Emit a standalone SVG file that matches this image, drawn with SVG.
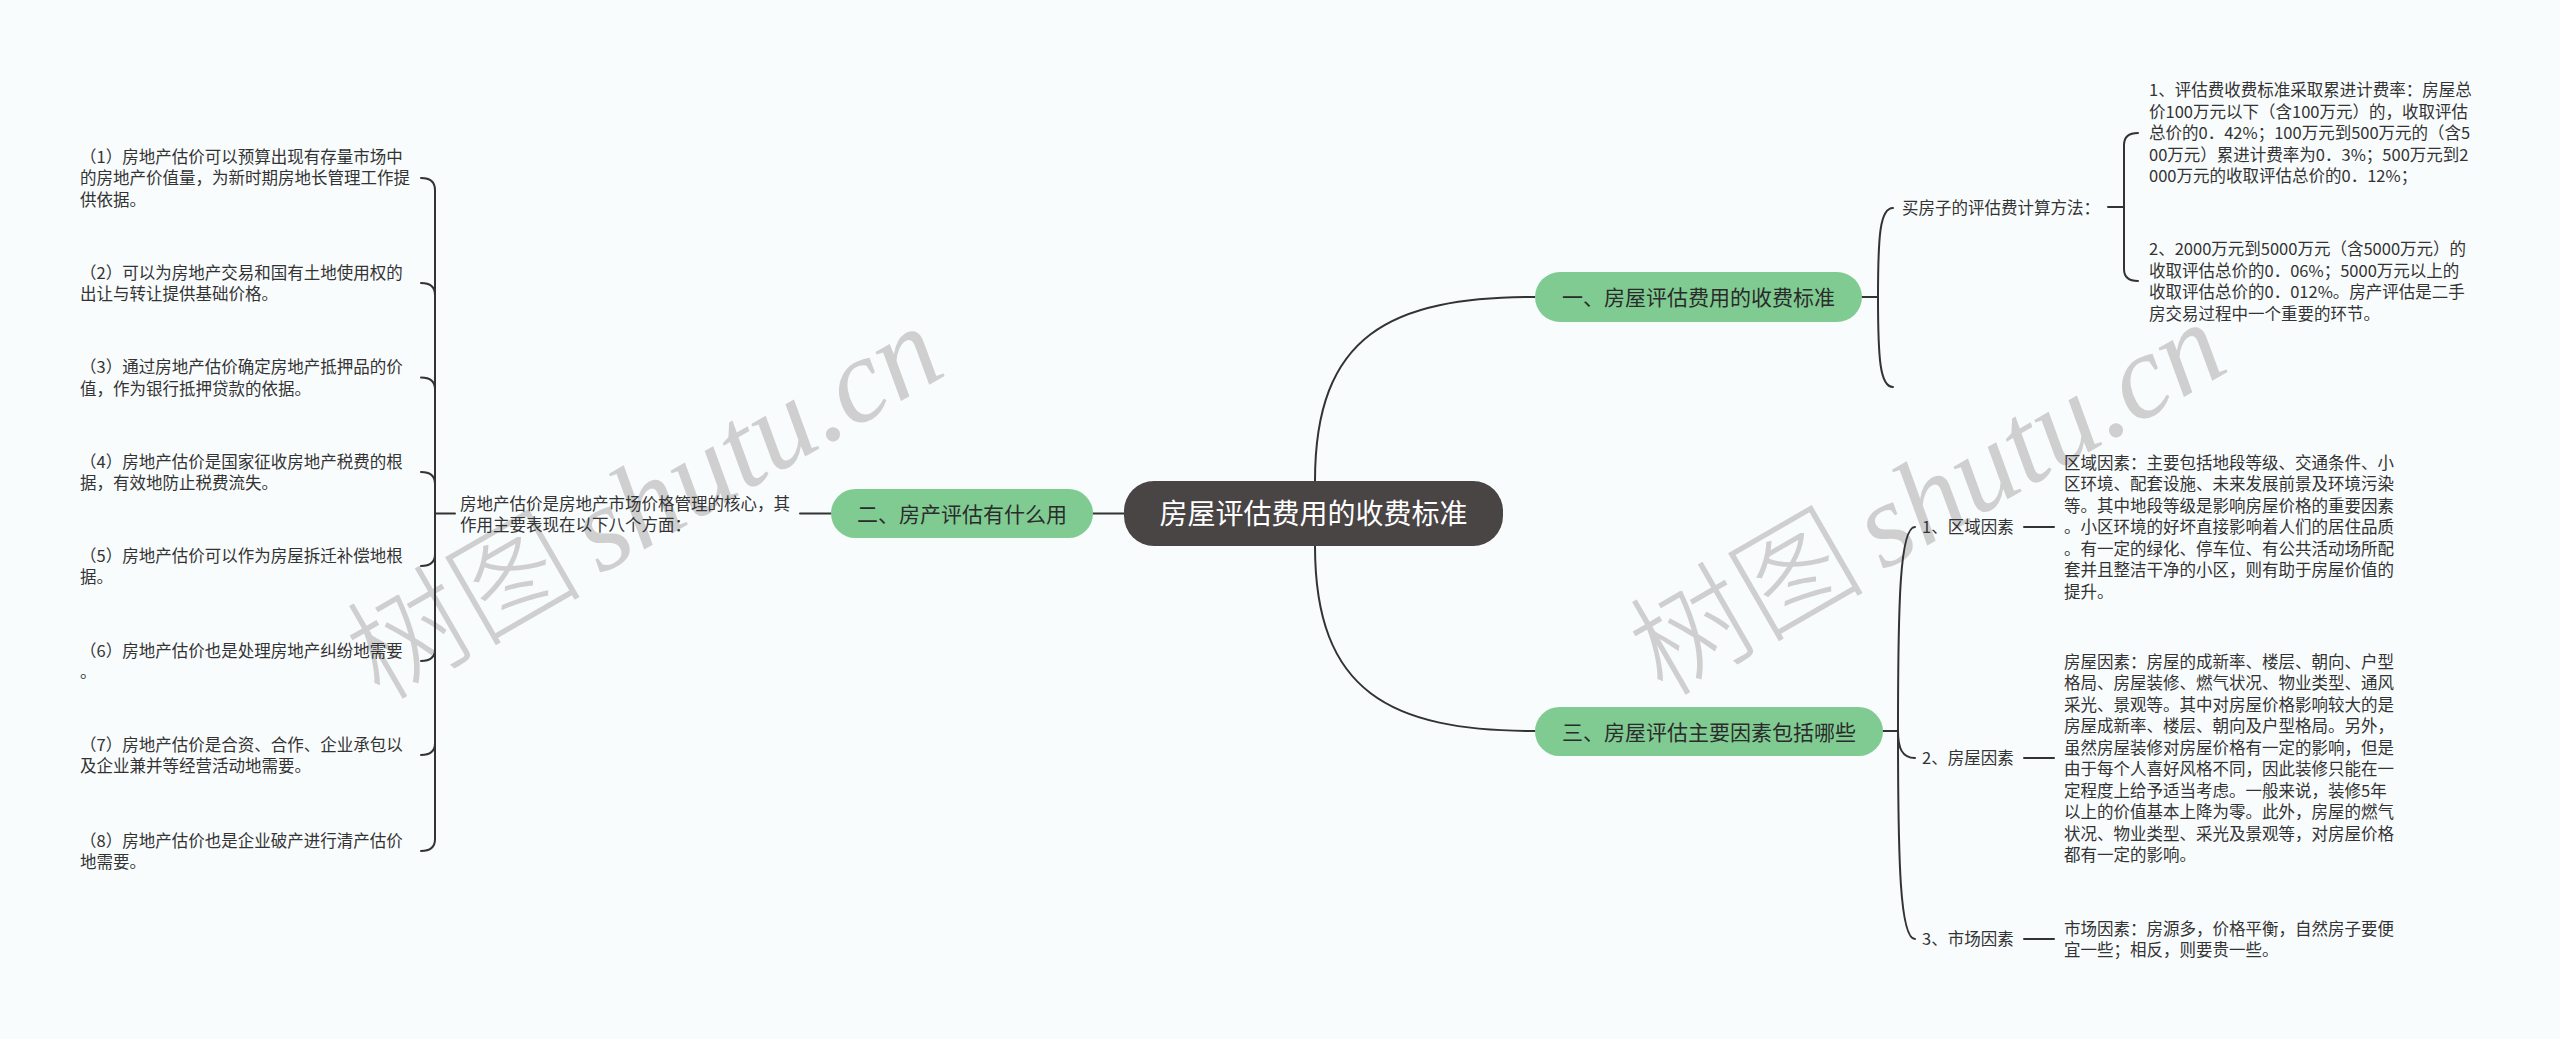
<svg xmlns="http://www.w3.org/2000/svg" width="2560" height="1039" viewBox="0 0 2560 1039">
<style>
.t{font-family:"Noto Sans CJK SC","Microsoft YaHei",sans-serif;font-size:16.5px;fill:#333333}
.n{font-family:"Noto Sans CJK SC","Microsoft YaHei",sans-serif;font-size:21px;fill:#2b2b2b;text-anchor:middle}
.r{font-family:"Noto Sans CJK SC","Microsoft YaHei",sans-serif;font-size:28px;fill:#ffffff;text-anchor:middle}
.g{fill:#80cb92}
.c{fill:none;stroke:#333333;stroke-width:2;stroke-linecap:round}
.wm{fill:#cfcfcf}
.wc{font-family:"Noto Sans CJK SC",sans-serif;font-size:118px;font-weight:300}
.wl{font-family:"Liberation Serif",serif;font-style:italic;font-size:120px}
</style>
<rect width="2560" height="1039" fill="#f9fcfd"/>
<g id="watermarks">
<text class="wm" transform="translate(380,702) rotate(-30)"><tspan class="wc">树图</tspan><tspan class="wl" dx="18">shutu.cn</tspan></text>
<text class="wm" transform="translate(1663,698) rotate(-30)"><tspan class="wc">树图</tspan><tspan class="wl" dx="18">shutu.cn</tspan></text>
</g>
<g id="connectors">
<path class="c" d="M1315,481 C1315,335 1390,297 1535,297"/>
<path class="c" d="M1315,546 C1315,692 1390,731 1535,731"/>
<path class="c" d="M1124,513.5 H1093"/>
<path class="c" d="M831,513.5 H800"/>
<path class="c" d="M455,513.5 H435"/>
<path class="c" d="M435,513.5 V190 Q435,178 421,178"/>
<path class="c" d="M435,513.5 V295 Q435,283 421,283"/>
<path class="c" d="M435,513.5 V389.5 Q435,377.5 421,377.5"/>
<path class="c" d="M435,513.5 V484 Q435,472 421,472"/>
<path class="c" d="M435,513.5 V554 Q435,566 421,566"/>
<path class="c" d="M435,513.5 V649 Q435,661 421,661"/>
<path class="c" d="M435,513.5 V743 Q435,755 421,755"/>
<path class="c" d="M435,513.5 V839 Q435,851 421,851"/>
<path class="c" d="M1862,297 H1878"/>
<path class="c" d="M1878,297 C1878,235 1880,208 1893,208"/>
<path class="c" d="M1878,297 C1878,359 1880,387 1893,387"/>
<path class="c" d="M2108,207 H2124"/>
<path class="c" d="M2124,207 V145 Q2124,133 2138,133"/>
<path class="c" d="M2124,207 V269 Q2124,281 2138,281"/>
<path class="c" d="M1883,731 H1898"/>
<path class="c" d="M1898,731 C1898,600 1900,527 1915,527"/>
<path class="c" d="M1898,731 C1898,748 1902,758 1915,758"/>
<path class="c" d="M1898,731 C1898,862 1900,939 1915,939"/>
<path class="c" d="M2024,527 H2054"/>
<path class="c" d="M2024,758 H2054"/>
<path class="c" d="M2024,939 H2054"/>
</g>
<g id="root">
<rect x="1124" y="481" width="379" height="65" rx="30" fill="#4a4545"/>
<text class="r" x="1313.5" y="524">房屋评估费用的收费标准</text>
</g>
<g id="branch1">
<rect class="g" x="1535" y="272" width="327" height="50" rx="25"/>
<text class="n" x="1698.5" y="305">一、房屋评估费用的收费标准</text>
</g>
<g id="branch2">
<rect class="g" x="831" y="489" width="262" height="49" rx="24.5"/>
<text class="n" x="962" y="521.5">二、房产评估有什么用</text>
</g>
<g id="branch3">
<rect class="g" x="1535" y="707" width="348" height="49" rx="24.5"/>
<text class="n" x="1709" y="739.5">三、房屋评估主要因素包括哪些</text>
</g>
<g id="b2-intro">
<text class="t" x="460" y="509.5"><tspan x="460">房地产估价是房地产市场价格管理的核心，其</tspan><tspan x="460" dy="21.5">作用主要表现在以下八个方面：</tspan></text>
</g>
<g id="use1"><text class="t" y="162.8"><tspan x="80">（1）房地产估价可以预算出现有存量市场中</tspan><tspan x="80" dy="21.5">的房地产价值量，为新时期房地长管理工作提</tspan><tspan x="80" dy="21.5">供依据。</tspan></text></g>
<g id="use2"><text class="t" y="278.5"><tspan x="80">（2）可以为房地产交易和国有土地使用权的</tspan><tspan x="80" dy="21.5">出让与转让提供基础价格。</tspan></text></g>
<g id="use3"><text class="t" y="373"><tspan x="80">（3）通过房地产估价确定房地产抵押品的价</tspan><tspan x="80" dy="21.5">值，作为银行抵押贷款的依据。</tspan></text></g>
<g id="use4"><text class="t" y="467.5"><tspan x="80">（4）房地产估价是国家征收房地产税费的根</tspan><tspan x="80" dy="21.5">据，有效地防止税费流失。</tspan></text></g>
<g id="use5"><text class="t" y="561.5"><tspan x="80">（5）房地产估价可以作为房屋拆迁补偿地根</tspan><tspan x="80" dy="21.5">据。</tspan></text></g>
<g id="use6"><text class="t" y="656.5"><tspan x="80">（6）房地产估价也是处理房地产纠纷地需要</tspan><tspan x="80" dy="21.5">。</tspan></text></g>
<g id="use7"><text class="t" y="750.5"><tspan x="80">（7）房地产估价是合资、合作、企业承包以</tspan><tspan x="80" dy="21.5">及企业兼并等经营活动地需要。</tspan></text></g>
<g id="use8"><text class="t" y="846.5"><tspan x="80">（8）房地产估价也是企业破产进行清产估价</tspan><tspan x="80" dy="21.5">地需要。</tspan></text></g>
<g id="b1-method"><text class="t" x="1902" y="214.3">买房子的评估费计算方法：</text></g>
<g id="fee1"><text class="t" y="96.3"><tspan x="2149">1、评估费收费标准采取累进计费率：房屋总</tspan><tspan x="2149" dy="21.5">价100万元以下（含100万元）的，收取评估</tspan><tspan x="2149" dy="21.5">总价的0．42%；100万元到500万元的（含5</tspan><tspan x="2149" dy="21.5">00万元）累进计费率为0．3%；500万元到2</tspan><tspan x="2149" dy="21.5">000万元的收取评估总价的0．12%；</tspan></text></g>
<g id="fee2"><text class="t" y="255"><tspan x="2149">2、2000万元到5000万元（含5000万元）的</tspan><tspan x="2149" dy="21.5">收取评估总价的0．06%；5000万元以上的</tspan><tspan x="2149" dy="21.5">收取评估总价的0．012%。房产评估是二手</tspan><tspan x="2149" dy="21.5">房交易过程中一个重要的环节。</tspan></text></g>
<g id="factor1"><text class="t" x="1922" y="533.3">1、区域因素</text></g>
<g id="factor2"><text class="t" x="1922" y="764.3">2、房屋因素</text></g>
<g id="factor3"><text class="t" x="1922" y="945.3">3、市场因素</text></g>
<g id="factor1-desc"><text class="t" y="468.8"><tspan x="2064">区域因素：主要包括地段等级、交通条件、小</tspan><tspan x="2064" dy="21.5">区环境、配套设施、未来发展前景及环境污染</tspan><tspan x="2064" dy="21.5">等。其中地段等级是影响房屋价格的重要因素</tspan><tspan x="2064" dy="21.5">。小区环境的好坏直接影响着人们的居住品质</tspan><tspan x="2064" dy="21.5">。有一定的绿化、停车位、有公共活动场所配</tspan><tspan x="2064" dy="21.5">套并且整洁干净的小区，则有助于房屋价值的</tspan><tspan x="2064" dy="21.5">提升。</tspan></text></g>
<g id="factor2-desc"><text class="t" y="667.5"><tspan x="2064">房屋因素：房屋的成新率、楼层、朝向、户型</tspan><tspan x="2064" dy="21.5">格局、房屋装修、燃气状况、物业类型、通风</tspan><tspan x="2064" dy="21.5">采光、景观等。其中对房屋价格影响较大的是</tspan><tspan x="2064" dy="21.5">房屋成新率、楼层、朝向及户型格局。另外，</tspan><tspan x="2064" dy="21.5">虽然房屋装修对房屋价格有一定的影响，但是</tspan><tspan x="2064" dy="21.5">由于每个人喜好风格不同，因此装修只能在一</tspan><tspan x="2064" dy="21.5">定程度上给予适当考虑。一般来说，装修5年</tspan><tspan x="2064" dy="21.5">以上的价值基本上降为零。此外，房屋的燃气</tspan><tspan x="2064" dy="21.5">状况、物业类型、采光及景观等，对房屋价格</tspan><tspan x="2064" dy="21.5">都有一定的影响。</tspan></text></g>
<g id="factor3-desc"><text class="t" y="934.5"><tspan x="2064">市场因素：房源多，价格平衡，自然房子要便</tspan><tspan x="2064" dy="21.5">宜一些；相反，则要贵一些。</tspan></text></g>
</svg>
